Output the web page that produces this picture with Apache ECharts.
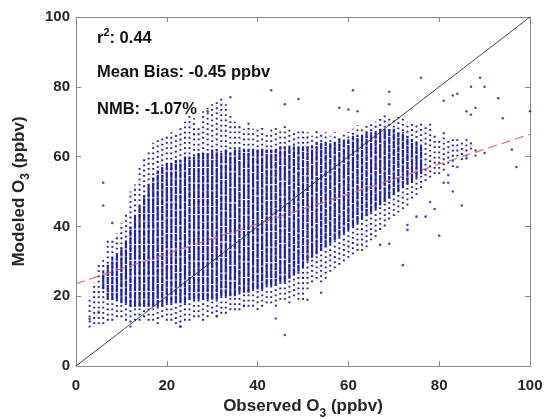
<!DOCTYPE html>
<html><head><meta charset="utf-8">
<script src="https://cdn.jsdelivr.net/npm/echarts@6/dist/echarts.min.js"></script>
<style>html,body{margin:0;padding:0;background:#fff}#c{width:548px;height:419px}</style>
</head><body><div id="c"></div>
<script>
// Observed O3 (integer ppbv bins) and the visible extent of modeled values in each bin
const obsX = [3,4,5,6,7,8,9,10,11,12,13,14,15,16,17,18,19,20,21,22,23,24,25,26,27,28,29,30,31,32,33,34,35,36,37,38,39,40,41,42,43,44,45,46,47,48,49,50,51,52,53,54,55,56,57,58,59,60,61,62,63,64,65,66,67,68,69,70,71,72,73,74,75,76,77,78,79,80,81,82,83,84,85,86,87,88];
const sparseLo = [11,12,12,12,13,13,14,14,13,11,13,13,14,13,13,12,14,13,13,12,11,13,13,14,14,13,14,15,14,15,15,16,16,16,17,17,17,18,17,18,18,17,19,19,18,20,19,19,22,24,25,24,25,27,28,29,30,31,32,33,33,34,36,37,39,40,42,43,44,45,46,48,49,51,53,54,55,55,56,58,57,60,59,60,62,60];
const sparseHi = [20,24,29,31,36,36,38,41,44,50,52,57,60,62,64,65,66,66,67,67,69,70,72,71,69,73,74,75,76,77,75,72,70,69,68,70,68,68,69,67,68,69,68,69,68,67,68,68,67,66,68,67,67,66,67,66,67,67,68,69,68,69,70,70,71,72,71,71,72,71,70,70,69,70,69,70,66,65,67,65,66,66,64,66,65,63];
const denseLo = [null,null,null,22,19,19,19,18,18,17,17,17,17,17,17,17,17,18,18,18,18,18,19,19,19,19,19,19,19,20,20,20,20,21,21,21,22,22,22,23,23,23,24,24,25,26,27,28,30,31,32,33,34,35,36,37,38,39,40,41,42,43,44,45,46,47,48,49,50,51,52,53,54,55,null,null,null,null,null,null,null,null,null,null,null,null];
const denseHi = [null,null,null,27,29,31,32,34,36,40,43,46,49,52,54,56,57,58,58,59,59,60,60,60,61,61,61,62,62,61,62,61,62,62,62,62,62,62,62,62,62,62,63,63,63,63,63,63,63,63,64,64,64,64,64,65,65,65,66,66,66,67,67,67,68,68,68,68,67,67,66,65,64,63,null,null,null,null,null,null,null,null,null,null,null,null];
// isolated points
const outX = [76,89,90,87,93,94,97,96,90,61,69,43,49,46,58,60,62,69,81,83,84,86,88,87,100,46,72,80,85,51,54,34,29,23,44,31,40,37,78,79,75,77,73,73,69,67,83,81,82,82,86,84,3,5,6,6,8];
const outY = [82.6,82.6,80,80,76.7,71,57,62,61,79,78.6,79,76.5,75,74,73.5,73,75,76,77.5,78,73,74,72,73,8.9,28.9,37.3,46,19,21,77,73,11.3,13.6,14.3,16.3,17.2,47,45,42.8,42.8,40.4,39,35,34.7,50,52.5,52.5,54.7,59.5,57,13.5,15.5,52.5,46,41];
// 1:1 line and linear fit
const oneX = [0,100], oneY = [0,100];
const fitX = [0,100], fitY = [23.6,66.4];
const stats = {r2:'0.44', bias:'-0.45 ppbv', nmb:'-1.07%'};

const BLUE = '#2222a8';
const FONT = '"Liberation Sans", Arial, Helvetica, sans-serif';
const chart = echarts.init(document.getElementById('c'), null, {renderer:'canvas'});
const stripeData = obsX.map((x,i)=>[x, sparseLo[i], sparseHi[i], denseLo[i]==null?'-':denseLo[i], denseHi[i]==null?'-':denseHi[i]]);
const outData = outX.map((x,i)=>[x,outY[i]]);

const axisCommon = {type:'value', min:0, max:100, interval:20,
  axisLine:{show:true, onZero:false, lineStyle:{color:'#8a8a8a', width:1}},
  axisTick:{show:true, inside:true, length:5, lineStyle:{color:'#8a8a8a'}},
  splitLine:{show:false}};
const labelStyle = {fontSize:15, fontWeight:'bold', color:'#262626', fontFamily:FONT};
const nameRich = {
  a:{fontSize:17, fontWeight:'bold', color:'#262626', fontFamily:FONT, lineHeight:26, verticalAlign:'middle'},
  s:{fontSize:12, fontWeight:'bold', color:'#262626', fontFamily:FONT, lineHeight:26, verticalAlign:'bottom'}
};
const annot = {fontSize:16.5, fontWeight:'bold', fill:'#111', fontFamily:FONT};

chart.setOption({
  animation:false,
  backgroundColor:'#fff',
  grid:{left:76, right:18, top:17, bottom:53, containLabel:false, outerBoundsMode:'none'},
  xAxis:[
    Object.assign({}, axisCommon, {position:'bottom', axisLabel:Object.assign({margin:12}, labelStyle),
      name:'{a|Observed O}{s|3}{a| (ppbv)}', nameLocation:'middle', nameGap:27, nameTextStyle:{rich:nameRich}}),
    Object.assign({}, axisCommon, {position:'top', axisLabel:{show:false}})
  ],
  yAxis:[
    Object.assign({}, axisCommon, {position:'left', axisLabel:Object.assign({margin:6}, labelStyle),
      name:'{a|Modeled O}{s|3}{a| (ppbv)}', nameLocation:'middle', nameGap:44, nameRotate:90, nameTextStyle:{rich:nameRich}}),
    Object.assign({}, axisCommon, {position:'right', axisLabel:{show:false}})
  ],
  graphic:[
    {type:'text', left:97, top:27, style:{text:'{a|r}{p|2}{a|: '+stats.r2+'}', rich:{
      a:Object.assign({lineHeight:20, verticalAlign:'bottom'}, annot),
      p:{fontSize:11, fontWeight:'bold', fill:'#111', fontFamily:FONT, lineHeight:20, verticalAlign:'top'}}}},
    {type:'text', left:97, top:64, style:Object.assign({text:'Mean Bias: '+stats.bias}, annot)},
    {type:'text', left:97, top:101, style:Object.assign({text:'NMB: '+stats.nmb}, annot)}
  ],
  series:[
    {type:'custom', xAxisIndex:0, yAxisIndex:0, data:stripeData, z:2,
      dimensions:['x','slo','shi','dlo','dhi'], encode:{x:0, y:[1,2]},
      renderItem:function(params, api){
        const x = api.value(0);
        const a = api.coord([x, api.value(1)]);
        const b = api.coord([x, api.value(2)]);
        const ch = [{type:'line', shape:{x1:a[0],y1:a[1],x2:b[0],y2:b[1]},
          style:{stroke:BLUE, lineWidth:2, lineDash:[1.8,3.4]}}];
        const dl = api.value(3), dh = api.value(4);
        if (isFinite(dl) && isFinite(dh)) {
          const c = api.coord([x, dl]), d = api.coord([x, dh]);
          ch.push({type:'line', shape:{x1:c[0],y1:c[1],x2:d[0],y2:d[1]},
            style:{stroke:BLUE, lineWidth:2.2, lineDash:[7,0.8]}});
        }
        return {type:'group', children:ch};
      }},
    {type:'scatter', data:outData, symbolSize:2.6, itemStyle:{color:BLUE}, z:3},
    {type:'line', data:oneX.map((x,i)=>[x,oneY[i]]), symbol:'none', lineStyle:{color:'#333', width:0.9}, z:4},
    {type:'line', data:fitX.map((x,i)=>[x,fitY[i]]), symbol:'none', lineStyle:{color:'#d46a6a', width:1.3, type:[9,5], opacity:0.9}, z:5}
  ]
});
</script></body></html>
